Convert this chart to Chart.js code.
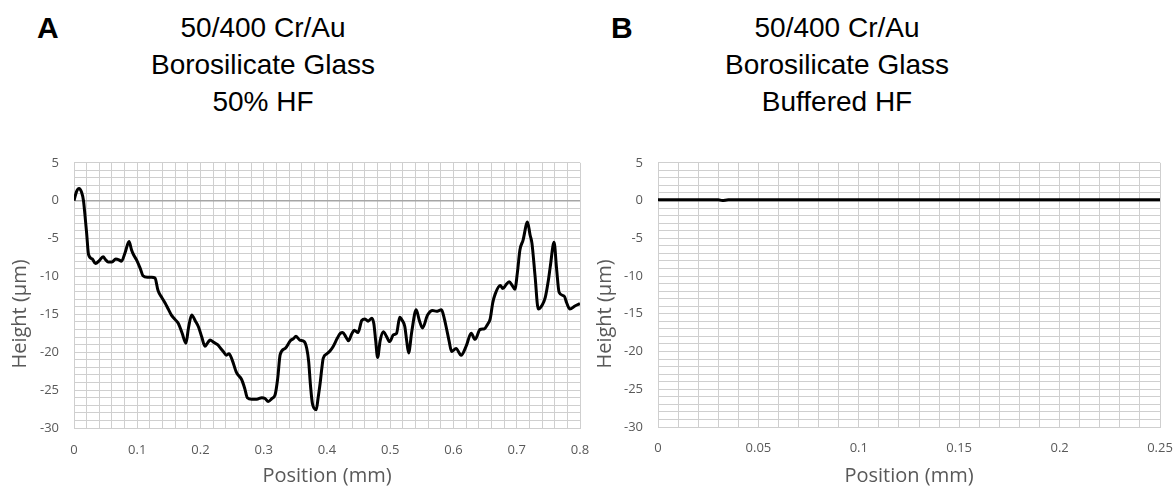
<!DOCTYPE html>
<html>
<head>
<meta charset="utf-8">
<script src="https://cdn.jsdelivr.net/npm/chart.js@4"></script>
<style>
  body { margin: 0; background: #fff; width: 1173px; height: 488px; position: relative; overflow: hidden; }
  .panel { position: absolute; font-family: Arial, "Liberation Sans", sans-serif; font-weight: bold; font-size: 30px; line-height: 30px; color: #000; }
  .title { position: absolute; width: 400px; text-align: center; font-family: Arial, "Liberation Sans", sans-serif; font-size: 28px; line-height: 37px; color: #000; }
  canvas { position: absolute; }
</style>
</head>
<body>
<div class="panel" style="left:37px;top:13px">A</div>
<div class="title" style="left:63px;top:9px">50/400 Cr/Au<br>Borosilicate Glass<br>50% HF</div>
<div class="panel" style="left:611px;top:13px">B</div>
<div class="title" style="left:637px;top:9px">50/400 Cr/Au<br>Borosilicate Glass<br>Buffered HF</div>

<canvas id="chartA" width="620" height="348" style="left:0;top:140px"></canvas>
<canvas id="chartB" width="610" height="348" style="left:586px;top:140px"></canvas>

<script>
// panel A: 50% HF profile
var posA = [0.000, 0.004, 0.008, 0.012, 0.015, 0.018, 0.020, 0.023, 0.029, 0.034,
  0.040, 0.046, 0.050, 0.054, 0.060, 0.066, 0.071, 0.075, 0.081, 0.087,
  0.091, 0.094, 0.100, 0.105, 0.109, 0.116, 0.123, 0.128, 0.133, 0.139,
  0.144, 0.149, 0.154, 0.160, 0.165, 0.171, 0.177, 0.181, 0.186, 0.192,
  0.197, 0.202, 0.207, 0.211, 0.215, 0.221, 0.227, 0.232, 0.236, 0.241,
  0.245, 0.250, 0.257, 0.265, 0.270, 0.274, 0.281, 0.289, 0.297, 0.302,
  0.307, 0.313, 0.318, 0.322, 0.326, 0.334, 0.342, 0.347, 0.351, 0.357,
  0.364, 0.368, 0.371, 0.374, 0.377, 0.383, 0.386, 0.389, 0.392, 0.394,
  0.400, 0.405, 0.410, 0.416, 0.421, 0.425, 0.430, 0.434, 0.439, 0.443,
  0.449, 0.455, 0.460, 0.465, 0.471, 0.474, 0.477, 0.480, 0.484, 0.489,
  0.494, 0.499, 0.505, 0.510, 0.515, 0.519, 0.523, 0.526, 0.529, 0.534,
  0.541, 0.546, 0.551, 0.559, 0.567, 0.573, 0.581, 0.585, 0.589, 0.593,
  0.597, 0.604, 0.612, 0.620, 0.628, 0.634, 0.642, 0.649, 0.654, 0.658,
  0.662, 0.666, 0.674, 0.678, 0.683, 0.688, 0.693, 0.697, 0.701, 0.705,
  0.710, 0.717, 0.721, 0.724, 0.729, 0.734, 0.740, 0.745, 0.750, 0.753,
  0.759, 0.763, 0.767, 0.775, 0.779, 0.784, 0.792, 0.800];
var heightA = [0.0, 1.2, 1.6, 1.1, 0.0, -2.5, -4.3, -7.1, -7.7, -8.3,
  -7.9, -7.4, -7.8, -8.1, -8.1, -7.7, -7.8, -8.0, -6.8, -5.4,
  -6.5, -7.1, -8.0, -9.0, -9.9, -10.1, -10.1, -10.2, -11.9, -12.8,
  -13.5, -14.3, -15.1, -15.7, -16.2, -17.5, -18.8, -16.8, -15.1, -15.9,
  -16.7, -18.0, -19.2, -18.8, -18.4, -18.7, -19.0, -19.5, -19.9, -20.4,
  -20.2, -21.0, -22.7, -23.6, -24.8, -26.0, -26.2, -26.2, -26.0, -26.1,
  -26.5, -26.1, -25.6, -23.5, -20.3, -19.5, -18.5, -18.2, -17.9, -18.4,
  -18.6, -19.5, -21.2, -24.5, -26.8, -27.6, -26.0, -24.2, -22.0, -20.8,
  -20.2, -19.8, -19.2, -18.2, -17.5, -17.4, -18.0, -18.5, -17.6, -17.1,
  -17.4, -15.8, -15.6, -15.9, -15.5, -16.2, -18.5, -20.7, -18.5, -17.3,
  -17.9, -18.6, -17.7, -17.5, -15.4, -15.8, -16.6, -18.5, -20.1, -17.3,
  -14.4, -15.8, -16.8, -15.1, -14.5, -14.6, -14.4, -15.4, -16.9, -18.5,
  -19.9, -19.5, -20.4, -19.2, -17.5, -18.3, -17.0, -16.9, -16.3, -15.6,
  -13.5, -12.3, -11.2, -11.6, -11.1, -10.7, -11.2, -11.7, -9.5, -6.5,
  -5.2, -2.8, -4.5, -5.6, -10.0, -14.3, -13.8, -12.8, -10.5, -8.7,
  -5.5, -9.0, -12.1, -12.6, -13.5, -14.3, -13.9, -13.6];

// panel B: buffered HF profile (flat)
var posB = [0.000, 0.030, 0.032, 0.035, 0.100, 0.250];
var heightB = [0.1, 0.1, 0.0, 0.1, 0.1, 0.1];

var yMin = -30, yMax = 5, yMajor = 5;
var xMaxA = 0.8, xStepA = 0.02, xMajorA = 0.1;
var xMaxB = 0.25, xStepB = 0.01, xMajorB = 0.05;

var yTitlePlugin = {
    id: 'yTitle',
    afterDraw: function (chart, args, opts) {
        var ctx = chart.ctx;
        ctx.save();
        ctx.translate(opts.x, opts.y);
        ctx.rotate(-Math.PI / 2);
        ctx.font = '20px "Open Sans"';
        ctx.fillStyle = '#595959';
        ctx.textAlign = 'center';
        ctx.textBaseline = 'middle';
        ctx.fillText(opts.text, 0, 0);
        ctx.restore();
    }
};

function isMajor(v, step) {
    var r = v / step;
    return Math.abs(r - Math.round(r)) < 1e-6;
}

function makeChart(id, xs, ys, xMax, xStep, xMajor, lay) {
    var ctx = document.getElementById(id).getContext('2d');
    var pts = xs.map(function (x, i) { return { x: x, y: ys[i] }; });
    return new Chart(ctx, {
        type: 'line',
        data: {
            datasets: [{
                data: pts,
                borderColor: '#000',
                borderWidth: 3,
                pointRadius: 0,
                cubicInterpolationMode: 'monotone',
                fill: false
            }]
        },
        plugins: [yTitlePlugin],
        options: {
            responsive: false,
            animation: false,
            devicePixelRatio: 1,
            layout: { padding: { top: lay.top, right: lay.right, left: 0, bottom: 0 } },
            plugins: {
                legend: { display: false },
                tooltip: { enabled: false },
                yTitle: { text: 'Height (µm)', x: lay.titleX, y: 174 }
            },
            scales: {
                x: {
                    type: 'linear',
                    min: 0,
                    max: xMax,
                    afterFit: function (s) { s.height = lay.xh; },
                    ticks: {
                        stepSize: xStep,
                        autoSkip: false,
                        maxRotation: 0,
                        padding: lay.xpad,
                        color: '#595959',
                        font: { family: 'Open Sans', size: 13 },
                        callback: function (v) { return isMajor(v, xMajor) ? String(+v.toFixed(2)) : ''; }
                    },
                    grid: { color: '#cfcfcf', drawTicks: false },
                    border: { display: true, color: '#cfcfcf' },
                    title: {
                        display: true,
                        text: 'Position (mm)',
                        color: '#595959',
                        font: { family: 'Open Sans', size: 20 },
                        padding: { top: 0, bottom: 0 }
                    }
                },
                y: {
                    min: yMin,
                    max: yMax,
                    afterFit: function (s) { s.width = lay.yw; },
                    ticks: {
                        stepSize: 1,
                        autoSkip: false,
                        padding: 15,
                        color: '#595959',
                        font: { family: 'Open Sans', size: 13 },
                        callback: function (v) { return isMajor(v, yMajor) ? v : ''; }
                    },
                    grid: {
                        drawTicks: false,
                        color: function (c) { return c.tick && c.tick.value === 0 ? '#a6a6a6' : '#cfcfcf'; },
                        lineWidth: function (c) { return c.tick && c.tick.value === 0 ? 1.5 : 1; }
                    },
                    border: { display: true, color: '#cfcfcf' }
                }
            }
        }
    });
}

document.addEventListener('DOMContentLoaded', function () {
    makeChart('chartA', posA, heightA, xMaxA, xStepA, xMajorA,
        { top: 18, right: 40, yw: 74, xh: 60, xpad: 14, titleX: 20 });
    makeChart('chartB', posB, heightB, xMaxB, xStepB, xMajorB,
        { top: 16, right: 36, yw: 72, xh: 61, xpad: 13, titleX: 19 });
});
</script>
</body>
</html>
